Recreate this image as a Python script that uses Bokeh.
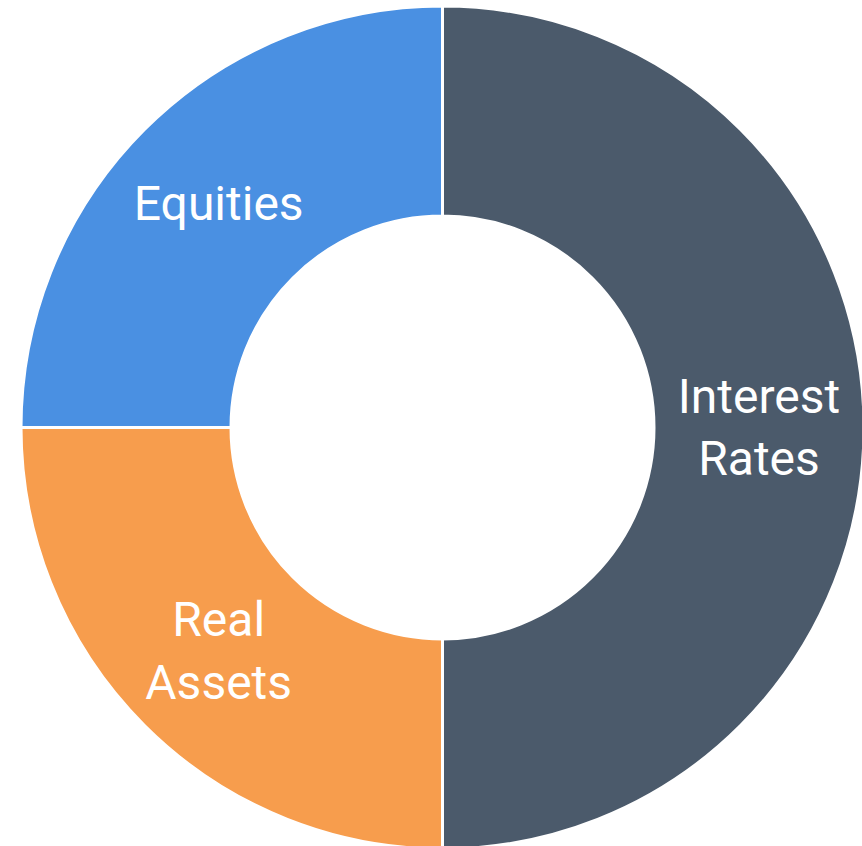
import math
from bokeh.plotting import figure
from bokeh.models import Range1d, ColumnDataSource
from bokeh.core.properties import value
from bokeh.embed import file_html
from bokeh.resources import INLINE

categories = ["Interest\nRates", "Real\nAssets", "Equities"]
shares = [50, 25, 25]
colors = ["#4b5a6b", "#f79d4d", "#4a90e2"]

total = sum(shares)
starts, ends, lx, ly = [], [], [], []
cx, cy = 442, -427
r_out, r_in = 421.5, 211.5
r_lab = (r_out + r_in) / 2
acc = 0.0
for s in shares:
    a0 = math.pi / 2 - 2 * math.pi * acc / total
    a1 = a0 - 2 * math.pi * s / total
    starts.append(a0)
    ends.append(a1)
    mid = (a0 + a1) / 2
    lx.append(cx + r_lab * math.cos(mid))
    ly.append(cy + r_lab * math.sin(mid))
    acc += s

src = ColumnDataSource(dict(cat=categories, start=starts, end=ends, color=colors,
                            lx=lx, ly=ly))

p = figure(width=862, height=846, output_backend="svg", toolbar_location=None,
           x_range=Range1d(0, 862), y_range=Range1d(-846, 0), min_border=0)
p.axis.visible = False
p.grid.visible = False
p.outline_line_color = None
p.background_fill_color = "white"
p.border_fill_color = "white"

p.annular_wedge(x=cx, y=cy, inner_radius=r_in, outer_radius=r_out,
                start_angle="start", end_angle="end", direction="clock",
                fill_color="color", line_color="white", line_width=3, source=src)

p.text(x="lx", y="ly", text="cat", source=src, text_color="white",
       text_font=value("Roboto"), text_font_size="48px", text_align="center",
       text_baseline="middle", text_line_height=1.1)

open("out.html", "w").write(file_html(p, INLINE))
